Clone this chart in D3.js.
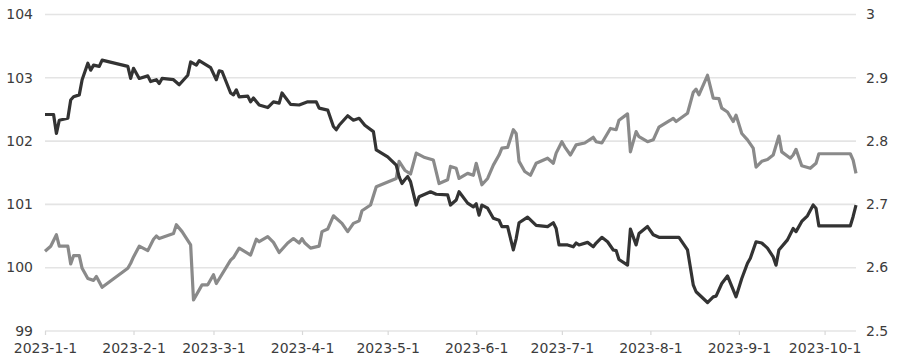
<!DOCTYPE html>
<html>
<head>
<meta charset="utf-8">
<script src="https://cdn.jsdelivr.net/npm/d3@7"></script>
<style>
  html, body { margin: 0; padding: 0; background: #fff; }
  svg { display: block; }
  text { font-family: "DejaVu Sans", Verdana, sans-serif; fill: #3c3c3c; }
</style>
</head>
<body>
<svg id="chart" width="900" height="364"></svg>
<script>
// ---- data ----
const xTickLabels = ["2023-1-1","2023-2-1","2023-3-1","2023-4-1","2023-5-1","2023-6-1","2023-7-1","2023-8-1","2023-9-1","2023-10-1"];
const leftTicks = [99, 100, 101, 102, 103, 104];
const rightTicks = [2.5, 2.6, 2.7, 2.8, 2.9, 3];
const xStart = "2023-1-1";
const xEnd = "2023-10-12";

// dark series (right axis)
const darkDates = ["1-1","1-4","1-5","1-6","1-9","1-10","1-11","1-13","1-14","1-16",
  "1-17","1-18","1-20","1-21","1-30","1-31","2-1","2-3","2-6","2-7",
  "2-9","2-10","2-11","2-15","2-17","2-20","2-21","2-23","2-24","2-28",
  "3-2","3-3","3-4","3-7","3-8","3-9","3-10","3-13","3-14","3-15",
  "3-17","3-20","3-22","3-24","3-25","3-28","3-31","4-3","4-6","4-7",
  "4-10","4-12","4-13","4-14","4-17","4-19","4-21","4-23","4-26","4-27",
  "5-1","5-4","5-5","5-6","5-7","5-8","5-9","5-11","5-12","5-15",
  "5-16","5-18","5-22","5-23","5-25","5-26","5-29","5-31","6-1","6-2",
  "6-3","6-5","6-7","6-9","6-10","6-12","6-14","6-15","6-16","6-19",
  "6-22","6-26","6-28","6-29","6-30","7-3","7-5","7-6","7-7","7-10",
  "7-12","7-13","7-15","7-17","7-19","7-20","7-21","7-24","7-25","7-27",
  "7-28","7-31","8-2","8-4","8-9","8-11","8-14","8-16","8-17","8-21",
  "8-23","8-24","8-26","8-28","8-30","8-31","9-2","9-4","9-5","9-7",
  "9-9","9-11","9-13","9-14","9-15","9-18","9-20","9-21","9-23","9-25",
  "9-27","9-28","9-29","10-10","10-11","10-12"];
const darkValues = [2.842,2.842,2.812,2.833,2.836,2.865,2.870,2.873,2.897,2.923,
  2.912,2.920,2.918,2.928,2.918,2.899,2.915,2.899,2.903,2.894,
  2.897,2.891,2.899,2.897,2.889,2.904,2.925,2.920,2.927,2.916,
  2.897,2.911,2.910,2.876,2.873,2.881,2.870,2.871,2.862,2.868,
  2.857,2.853,2.862,2.860,2.876,2.858,2.857,2.862,2.862,2.852,
  2.849,2.823,2.818,2.825,2.840,2.833,2.836,2.825,2.815,2.786,
  2.775,2.762,2.744,2.733,2.739,2.744,2.736,2.699,2.712,2.718,
  2.720,2.716,2.715,2.699,2.707,2.720,2.702,2.696,2.701,2.683,
  2.699,2.694,2.678,2.675,2.665,2.665,2.628,2.646,2.671,2.680,
  2.667,2.665,2.671,2.662,2.636,2.636,2.633,2.639,2.636,2.640,
  2.633,2.639,2.648,2.641,2.628,2.627,2.613,2.604,2.661,2.636,
  2.654,2.665,2.652,2.648,2.648,2.648,2.628,2.573,2.562,2.545,
  2.554,2.555,2.575,2.587,2.565,2.554,2.583,2.607,2.615,2.641,
  2.639,2.631,2.617,2.604,2.628,2.644,2.662,2.657,2.673,2.682,
  2.699,2.694,2.666,2.666,2.681,2.699];

// grey series (left axis)
const greyDates = ["1-1","1-3","1-5","1-6","1-9","1-10","1-11","1-13","1-14","1-16",
  "1-18","1-19","1-21","1-30","1-31","2-1","2-3","2-6","2-8","2-9",
  "2-10","2-15","2-16","2-18","2-21","2-22","2-24","2-25","2-27","3-1",
  "3-2","3-7","3-8","3-10","3-14","3-16","3-17","3-20","3-22","3-24",
  "3-27","3-29","3-31","4-1","4-2","4-4","4-7","4-8","4-10","4-12",
  "4-15","4-17","4-19","4-21","4-22","4-25","4-27","5-4","5-5","5-7",
  "5-9","5-11","5-14","5-17","5-19","5-22","5-23","5-25","5-26","5-29",
  "5-31","6-1","6-3","6-5","6-7","6-9","6-10","6-12","6-14","6-15",
  "6-16","6-18","6-20","6-22","6-26","6-28","6-29","7-1","7-2","7-4",
  "7-6","7-9","7-12","7-13","7-15","7-18","7-20","7-21","7-24","7-25",
  "7-27","7-28","7-31","8-2","8-4","8-8","8-9","8-10","8-14","8-16",
  "8-17","8-18","8-21","8-23","8-25","8-26","8-28","8-30","8-31","9-2",
  "9-4","9-6","9-7","9-9","9-11","9-13","9-15","9-16","9-19","9-20",
  "9-21","9-23","9-26","9-28","9-29","10-10","10-11","10-12"];
const greyValues = [100.26,100.34,100.52,100.34,100.34,100.06,100.19,100.19,99.99,99.83,
  99.80,99.86,99.69,99.99,100.07,100.17,100.34,100.27,100.45,100.50,
  100.46,100.54,100.68,100.57,100.36,99.49,99.65,99.73,99.73,99.89,
  99.75,100.12,100.16,100.31,100.20,100.45,100.41,100.49,100.40,100.24,
  100.39,100.46,100.39,100.46,100.39,100.31,100.34,100.57,100.61,100.82,
  100.70,100.57,100.70,100.74,100.90,100.99,101.28,101.41,101.68,101.54,
  101.48,101.81,101.74,101.70,101.33,101.39,101.60,101.57,101.41,101.49,
  101.46,101.65,101.31,101.41,101.62,101.78,101.89,101.90,102.18,102.12,
  101.68,101.52,101.46,101.65,101.73,101.65,101.81,101.99,101.91,101.78,
  101.94,101.97,102.06,101.99,101.97,102.20,102.18,102.33,102.43,101.83,
  102.15,102.07,101.99,102.02,102.22,102.33,102.36,102.31,102.44,102.77,
  102.82,102.73,103.04,102.68,102.67,102.52,102.46,102.31,102.41,102.12,
  102.02,101.89,101.59,101.68,101.71,101.78,102.08,101.83,101.73,101.78,
  101.87,101.61,101.57,101.65,101.80,101.80,101.70,101.49];

// ---- drawing ----
const W = 900, H = 364;
const margin = { left: 45, right: 44, top: 14.5, bottom: 33 };
const svg = d3.select("#chart");

const parseMD = s => { const [m, d] = s.split("-").map(Number); return new Date(2023, m - 1, d); };
const parseFull = s => { const [y, m, d] = s.split("-").map(Number); return new Date(y, m - 1, d); };

const x = d3.scaleTime()
  .domain([parseFull(xStart), parseFull(xEnd)])
  .range([margin.left, W - margin.right]);
const yL = d3.scaleLinear().domain([99, 104]).range([H - margin.bottom, margin.top]);
const yR = d3.scaleLinear().domain([2.5, 3]).range([H - margin.bottom, margin.top]);

const FS = "14px";

// grid lines
svg.append("g")
  .selectAll("line")
  .data(leftTicks)
  .join("line")
  .attr("x1", margin.left).attr("x2", W - margin.right)
  .attr("y1", d => yL(d)).attr("y2", d => yL(d))
  .attr("stroke", "#e4e4e4").attr("stroke-width", 1.6);

// left axis labels
const leftAxis = d3.axisLeft(yL).tickValues(leftTicks).tickSize(0).tickPadding(12).tickFormat(d3.format("d"));
const gL = svg.append("g").attr("transform", `translate(${margin.left},0)`).call(leftAxis);
gL.select(".domain").remove();
gL.selectAll("text").style("font-size", FS).attr("fill", "#3c3c3c").attr("dy", "0.3em");

// right axis labels
const rightAxis = d3.axisRight(yR).tickValues(rightTicks).tickSize(0).tickPadding(10)
  .tickFormat(d => (d === 3 ? "3" : d3.format(".1f")(d)));
const gR = svg.append("g").attr("transform", `translate(${W - margin.right},0)`).call(rightAxis);
gR.select(".domain").remove();
gR.selectAll("text").style("font-size", FS).attr("fill", "#3c3c3c").attr("dy", "0.3em");

// bottom axis
const xTickDates = xTickLabels.map(parseFull);
const bottomAxis = d3.axisBottom(x).tickValues(xTickDates).tickSize(4).tickPadding(8)
  .tickFormat((d, i) => xTickLabels[i]);
const gB = svg.append("g").attr("transform", `translate(0,${H - margin.bottom})`).call(bottomAxis);
gB.select(".domain").remove();
gB.selectAll(".tick line").attr("stroke", "#d8d8d8").attr("stroke-width", 1.2);
gB.selectAll("text").style("font-size", FS).attr("fill", "#3c3c3c");

// lines
const greyData = greyDates.map((d, i) => ({ date: parseMD(d), value: greyValues[i] }));
const darkData = darkDates.map((d, i) => ({ date: parseMD(d), value: darkValues[i] }));

svg.append("path")
  .datum(greyData)
  .attr("fill", "none")
  .attr("stroke", "#8a8a8a")
  .attr("stroke-width", 3.2)
  .attr("stroke-linejoin", "round")
  .attr("d", d3.line().x(d => x(d.date)).y(d => yL(d.value)));

svg.append("path")
  .datum(darkData)
  .attr("fill", "none")
  .attr("stroke", "#333333")
  .attr("stroke-width", 3.2)
  .attr("stroke-linejoin", "round")
  .attr("d", d3.line().x(d => x(d.date)).y(d => yR(d.value)));
</script>
</body>
</html>
